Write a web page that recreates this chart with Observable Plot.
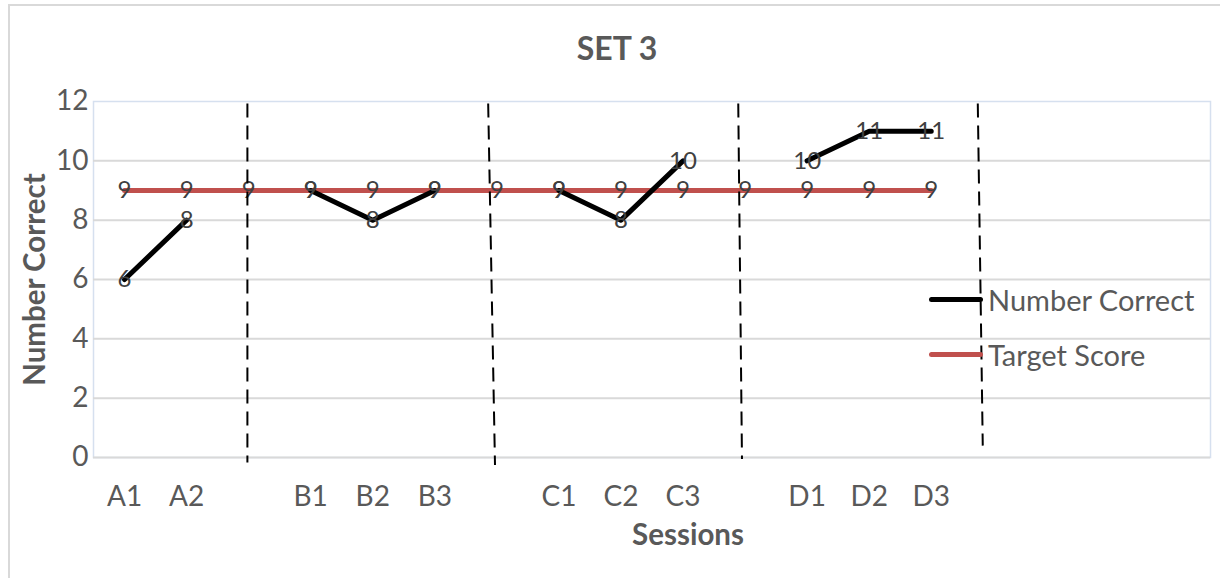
<!DOCTYPE html>
<html>
<head>
<meta charset="utf-8">
<script src="https://cdn.jsdelivr.net/npm/d3@7"></script>
<script src="https://cdn.jsdelivr.net/npm/@observablehq/plot@0.6"></script>
<style>
  html, body { margin: 0; padding: 0; background: #fff; }
  #wrap { position: relative; width: 1220px; height: 578px; overflow: hidden; font-family: Lato, "Open Sans", sans-serif; }
  #title { position: absolute; left: 0; width: 1234px; top: 32px; text-align: center; font-size: 32px; font-weight: bold; color: #595959; line-height: 1; }
  #chart { position: absolute; left: 0; top: 80px; }
  .bt { position: absolute; background: #d9d9d9; }
  .leg { position: absolute; font-size: 29px; color: #595959; line-height: 1; }
  .legline { position: absolute; height: 5px; border-radius: 3px; }
</style>
</head>
<body>
<div id="wrap">
  <div class="bt" style="left:8px;top:4px;width:1212px;height:2px"></div>
  <div class="bt" style="left:8px;top:4px;width:2px;height:574px"></div>
  <div id="title">SET 3</div>
  <div id="chart"></div>
  <div class="legline" style="left:929px;top:297px;width:54px;background:#000"></div>
  <div class="leg" style="left:988px;top:285px">Number Correct</div>
  <div class="legline" style="left:929px;top:352px;width:54px;background:#c0504d"></div>
  <div class="leg" style="left:988px;top:340px">Target Score</div>
</div>
<script>
// Category labels (blank entries are the gaps between phases)
const sessions = ["A1","A2","","B1","B2","B3","","C1","C2","C3","","D1","D2","D3","","","",""];
// Number correct per session (null = gap)
const numberCorrect = [6, 8, null, 9, 8, 9, null, 9, 8, 10, null, 10, 11, 11];
// Target score per session
const targetScore = [9, 9, 9, 9, 9, 9, 9, 9, 9, 9, 9, 9, 9, 9];
// Phase divider (dashed) lines: approx positions in category index units
const dividerX1 = [1.98, 5.86, 9.89, 13.75];
const dividerX2 = [1.98, 5.97, 9.95, 13.83];
const dividerY1 = [11.93, 11.93, 11.93, 11.93];
const dividerY2 = [-0.17, -0.25, -0.05, 0.4];
const yTicks = [0, 2, 4, 6, 8, 10, 12];

const nc = numberCorrect.map((v, i) => ({i, v}));
const ts = targetScore.map((v, i) => ({i, v}));
const dividers = dividerX1.map((x, k) => ({x1: x, x2: dividerX2[k], y1: dividerY1[k], y2: dividerY2[k]}));

const chart = Plot.plot({
  width: 1220,
  height: 498,
  marginTop: 21,
  marginBottom: 121,
  marginLeft: 93,
  marginRight: 10,
  style: {fontFamily: "Lato, 'Open Sans', sans-serif", background: "transparent", overflow: "visible"},
  x: {type: "linear", domain: [-0.5, sessions.length - 0.5]},
  y: {domain: [0, 12]},
  marks: [
    Plot.frame({stroke: "#d6e0ef", strokeWidth: 1.5}),
    Plot.gridY([2, 4, 6, 8, 10], {stroke: "#d9d9d9", strokeOpacity: 1, strokeWidth: 2}),
    Plot.ruleY([0], {stroke: "#d9d9d9", strokeWidth: 2}),
    Plot.axisY({ticks: yTicks, tickSize: 0, tickPadding: 5, fontSize: 28, color: "#595959", label: null}),
    Plot.axisX({ticks: d3.range(sessions.length), tickFormat: i => sessions[i], tickSize: 0, tickPadding: 29, fontSize: 28, color: "#595959", label: null}),
    Plot.text(["Number Correct"], {frameAnchor: "left", textAnchor: "middle", lineAnchor: "middle", dx: -58, rotate: -90, fontSize: 29.5, fontWeight: "bold", fill: "#595959"}),
    Plot.text(["Sessions"], {frameAnchor: "bottom", textAnchor: "middle", lineAnchor: "middle", dx: 36, dy: 78, fontSize: 29.5, fontWeight: "bold", fill: "#595959"}),
    Plot.line(ts, {x: "i", y: "v", stroke: "#c0504d", strokeWidth: 5}),
    Plot.line(nc, {x: "i", y: "v", stroke: "#000", strokeWidth: 5, strokeLinecap: "round"}),
    Plot.text(ts, {x: "i", y: "v", text: d => String(d.v), fontSize: 24, fill: "#404040"}),
    Plot.text(nc.filter(d => d.v != null), {x: "i", y: "v", text: d => String(d.v), fontSize: 24, fill: "#404040"}),
    Plot.link(dividers, {x1: "x1", y1: "y1", x2: "x2", y2: "y2", stroke: "#000", strokeWidth: 2, strokeDasharray: "14,8"})
  ]
});
document.getElementById("chart").appendChild(chart);
</script>
</body>
</html>
